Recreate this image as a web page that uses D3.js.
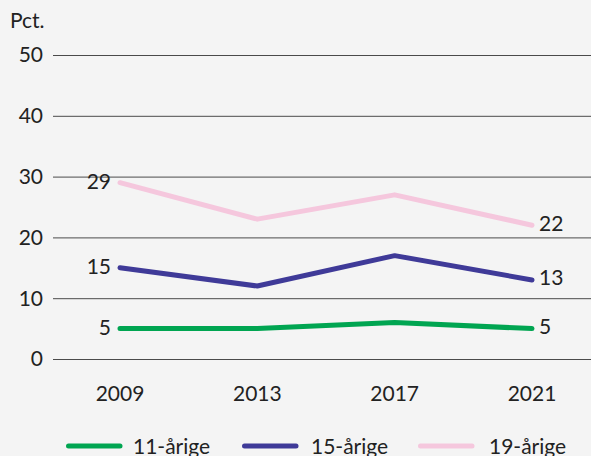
<!DOCTYPE html>
<html lang="da">
<head>
<meta charset="UTF-8">
<script src="https://d3js.org/d3.v7.min.js"></script>
<style>
  body { margin: 0; background: #f4f4f4; }
  svg { display: block; background: #f4f4f4; }
  text { font-family: Lato, "Open Sans", sans-serif; fill: #222; font-size: 21px; }
</style>
</head>
<body>
<script>
// data
const years = ["2009", "2013", "2017", "2021"];
const yTicks = [0, 10, 20, 30, 40, 50];
const seriesNames = ["11-årige", "15-årige", "19-årige"];
const seriesColors = ["#00a551", "#3f3a98", "#f5c7dd"];
const age11 = [5, 5, 6, 5];
const age15 = [15, 12, 17, 13];
const age19 = [29, 23, 27, 22];
const seriesValues = [age11, age15, age19];

const width = 591, height = 456;

const svg = d3.select("body").append("svg")
  .attr("width", width)
  .attr("height", height);

const x = d3.scalePoint().domain(years).range([120, 532]);
const y = d3.scaleLinear().domain([0, 50]).range([359, 55]);

// gridlines
svg.append("g").selectAll("line")
  .data(yTicks)
  .enter().append("line")
  .attr("x1", 53).attr("x2", width)
  .attr("y1", d => y(d) + 0.5).attr("y2", d => y(d) + 0.5)
  .attr("stroke", "#4a4a4a").attr("stroke-width", 1);

// y tick labels
svg.append("g").selectAll("text")
  .data(yTicks)
  .enter().append("text")
  .attr("x", 43).attr("y", d => y(d))
  .attr("dy", "0.35em")
  .attr("text-anchor", "end")
  .text(d => d);

svg.append("text").attr("x", 10).attr("y", 28).text("Pct.");

// x labels
svg.append("g").selectAll("text")
  .data(years)
  .enter().append("text")
  .attr("x", d => x(d)).attr("y", 400.5)
  .attr("text-anchor", "middle")
  .text(d => d);

// lines
const line = d3.line()
  .x((d, i) => x(years[i]))
  .y(d => y(d));

seriesValues.forEach((vals, s) => {
  svg.append("path")
    .datum(vals)
    .attr("d", line)
    .attr("fill", "none")
    .attr("stroke", seriesColors[s])
    .attr("stroke-width", 5)
    .attr("stroke-linecap", "round")
    .attr("stroke-linejoin", "round");

  // end labels
  svg.append("text")
    .attr("x", x(years[0]) - 9).attr("y", y(vals[0]))
    .attr("dy", "0.3em")
    .attr("text-anchor", "end")
    .text(vals[0]);
  svg.append("text")
    .attr("x", x(years[years.length - 1]) + 7).attr("y", y(vals[vals.length - 1]))
    .attr("dy", "0.26em")
    .text(vals[vals.length - 1]);
});

// legend
const legendX = [66, 242, 418];
const legend = svg.append("g").selectAll("g")
  .data(seriesNames)
  .enter().append("g")
  .attr("transform", (d, i) => `translate(${legendX[i]},446)`);
legend.append("line")
  .attr("x1", 2.5).attr("x2", 54)
  .attr("stroke", (d, i) => seriesColors[i])
  .attr("stroke-width", 5)
  .attr("stroke-linecap", "round");
legend.append("text")
  .attr("x", (d, i) => [67, 69, 71][i]).attr("y", 7.5)
  .text(d => d);
</script>
</body>
</html>
